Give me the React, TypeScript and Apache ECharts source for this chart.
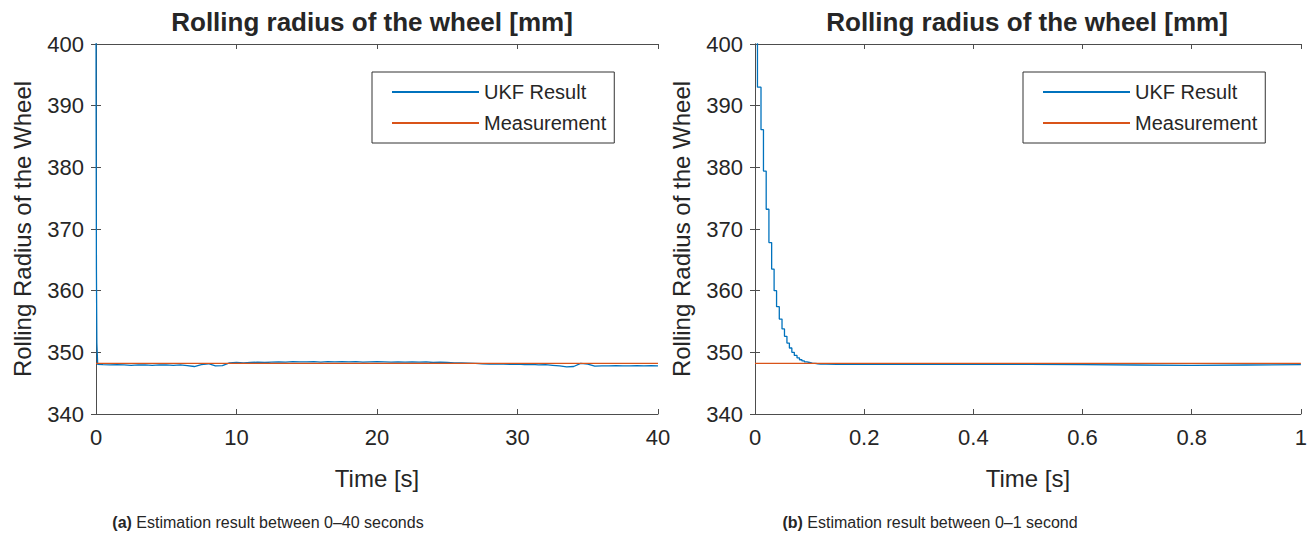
import React, { useEffect, useRef } from "react";
import * as echarts from "echarts";

// ---- Data ----
const seriesNames = ["UKF Result", "Measurement"];
const titleText = "Rolling radius of the wheel [mm]";
const yName = "Rolling Radius of the Wheel";
const xName = "Time [s]";
const captionA = "Estimation result between 0\u201340 seconds";
const captionB = "Estimation result between 0\u20131 second";

// (a) 0–40 s
const fullTime = [
  0, 0.005, 0.03, 0.06, 0.12, 0.5, 1, 1.5, 2, 2.5, 3, 3.5, 4, 4.5, 5, 5.5, 6, 6.5, 7, 7.5, 8, 8.5, 9, 9.5,
  10, 10.5, 11, 11.5, 12, 12.5, 13, 13.5, 14, 14.5, 15, 15.5, 16, 16.5, 17, 17.5, 18, 18.5, 19, 19.5,
  20, 20.5, 21, 21.5, 22, 22.5, 23, 23.5, 24, 24.5, 25, 25.5, 26, 26.5, 27, 27.5, 28, 28.5, 29, 29.5,
  30, 30.5, 31, 31.5, 32, 32.5, 33, 33.5, 34, 34.5, 35, 35.5, 36, 36.5, 37, 37.5, 38, 38.5, 39, 39.5, 40,
];
const fullUkf = [
  415, 393, 363.5, 351.5, 348.05, 348.0, 347.95, 348.0, 347.95, 347.9, 347.95, 347.95, 347.9, 347.95, 347.95, 347.9, 347.95, 347.85, 347.7, 348.0, 348.15, 347.8, 347.85, 348.3,
  348.35, 348.3, 348.35, 348.4, 348.35, 348.4, 348.45, 348.4, 348.5, 348.45, 348.45, 348.5, 348.4, 348.5, 348.45, 348.5, 348.45, 348.5, 348.4, 348.45,
  348.5, 348.45, 348.4, 348.45, 348.4, 348.45, 348.4, 348.45, 348.35, 348.4, 348.35, 348.3, 348.3, 348.25, 348.2, 348.15, 348.1, 348.15, 348.1, 348.05,
  348.1, 348.0, 348.05, 347.95, 348.0, 347.9, 347.8, 347.65, 347.7, 348.2, 348.1, 347.75, 347.8, 347.8, 347.85, 347.8, 347.8, 347.85, 347.8, 347.85, 347.8,
];
const measFullTime = [0, 40];
const measFullVal = [348.2, 348.2];

// (b) 0–1 s (sample-and-hold)
const zoomTime = [
  0, 0.0045, 0.011, 0.0155, 0.0205, 0.0255, 0.0305, 0.035, 0.0395, 0.0445, 0.0495, 0.054, 0.0585, 0.063,
  0.0675, 0.072, 0.077, 0.0815, 0.086, 0.0905, 0.095, 0.1, 0.105, 0.11, 0.115, 0.12, 0.13, 0.15, 0.2, 0.3,
  0.4, 0.5, 0.6, 0.7, 0.8, 0.9, 1.0,
];
const zoomUkf = [
  415, 393.0, 386.1, 379.4, 373.2, 367.8, 363.5, 360.0, 357.4, 355.4, 353.8, 352.6, 351.5, 350.7,
  350.0, 349.5, 349.1, 348.8, 348.6, 348.45, 348.35, 348.25, 348.2, 348.15, 348.1, 348.1, 348.05, 348.05, 348.05, 348.05,
  348.05, 348.0, 347.95, 347.9, 347.95, 348.0, 348.0,
];
const measZoomTime = [0, 1];
const measZoomVal = [348.2, 348.2];

const yMin = 340;
const yMax = 400;
const yStep = 10;

const FONT = '"Liberation Sans", Arial, Helvetica, sans-serif';
const TXT = "#262626";
const AX = "#4d4d4d";
const BLUE = "#0072BD";
const RED = "#D95319";

const zip = (a: number[], b: number[]) => a.map((v, i) => [v, b[i]]);

function axesFor(grid: number, xmin: number, xmax: number, xint: number) {
  const line = { show: true, lineStyle: { color: AX, width: 1 } };
  const tick = { show: true, inside: true, length: 5, lineStyle: { color: AX, width: 1 } };
  const label = { color: TXT, fontFamily: FONT, fontSize: 22 };
  const xAxes = [
    {
      type: "value", gridIndex: grid, min: xmin, max: xmax, interval: xint, position: "bottom",
      axisLine: line, axisTick: tick, splitLine: { show: false },
      axisLabel: { ...label, margin: 12 },
      name: xName, nameLocation: "middle", nameGap: 52,
      nameTextStyle: { color: TXT, fontFamily: FONT, fontSize: 24 },
    },
    {
      type: "value", gridIndex: grid, min: xmin, max: xmax, interval: xint, position: "top",
      axisLine: line, axisTick: tick, splitLine: { show: false }, axisLabel: { show: false },
    },
  ];
  const yAxes = [
    {
      type: "value", gridIndex: grid, min: yMin, max: yMax, interval: yStep, position: "left",
      axisLine: line, axisTick: tick, splitLine: { show: false },
      axisLabel: { ...label, margin: 12 },
      name: yName, nameLocation: "middle", nameGap: 62,
      nameTextStyle: { color: TXT, fontFamily: FONT, fontSize: 24 },
    },
    {
      type: "value", gridIndex: grid, min: yMin, max: yMax, interval: yStep, position: "right",
      axisLine: line, axisTick: tick, splitLine: { show: false }, axisLabel: { show: false },
    },
  ];
  return { xAxes, yAxes };
}

export default function App() {
  const ref = useRef<HTMLDivElement>(null);
  useEffect(() => {
    if (!ref.current) return;
    const chart = echarts.init(ref.current, null, { renderer: "svg" });
    const a = axesFor(0, 0, 40, 10);
    const b = axesFor(1, 0, 1, 0.2);
    const legendBase = {
      orient: "vertical",
      top: 72,
      padding: [10, 8, 10, 19],
      itemWidth: 87,
      itemHeight: 20,
      itemGap: 11,
      borderColor: "#333",
      borderWidth: 1,
      backgroundColor: "#fff",
      itemStyle: { opacity: 0, borderWidth: 0 },
      textStyle: { color: TXT, fontFamily: FONT, fontSize: 20 },
      data: seriesNames,
      selectedMode: false,
    };
    const titleBase = {
      textAlign: "center",
      padding: 0,
      textStyle: { color: TXT, fontFamily: FONT, fontSize: 26, fontWeight: "bold" },
    };
    const capBase = {
      textAlign: "center",
      padding: 0,
      top: 514,
      textStyle: {
        color: TXT, fontFamily: FONT, fontSize: 16, fontWeight: "normal",
        rich: { b: { fontFamily: FONT, fontSize: 16, fontWeight: "bold", color: TXT } },
      },
    };
    chart.setOption({
      animation: false,
      backgroundColor: "#fff",
      title: [
        { ...titleBase, text: titleText, left: 372, top: 9 },
        { ...titleBase, text: titleText, left: 1027, top: 9 },
        { ...capBase, text: "{b|(a)} " + captionA, left: 268 },
        { ...capBase, text: "{b|(b)} " + captionB, left: 930 },
      ],
      legend: [
        { ...legendBase, left: 372 },
        { ...legendBase, left: 1023 },
      ],
      grid: [
        { left: 96, top: 44, width: 562, height: 370 },
        { left: 755, top: 44, width: 552, height: 370 },
      ],
      xAxis: [...a.xAxes, ...b.xAxes],
      yAxis: [...a.yAxes, ...b.yAxes],
      series: [
        {
          name: seriesNames[0], type: "line", xAxisIndex: 0, yAxisIndex: 0, symbol: "none",
          data: zip(fullTime, fullUkf), lineStyle: { color: BLUE, width: 1.3 }, itemStyle: { color: BLUE }, clip: true,
        },
        {
          name: seriesNames[1], type: "line", xAxisIndex: 0, yAxisIndex: 0, symbol: "none",
          data: zip(measFullTime, measFullVal), lineStyle: { color: RED, width: 1.3 }, itemStyle: { color: RED }, clip: true,
        },
        {
          name: seriesNames[0], type: "line", xAxisIndex: 2, yAxisIndex: 2, symbol: "none", step: "end",
          data: zip(zoomTime, zoomUkf), lineStyle: { color: BLUE, width: 1.3 }, itemStyle: { color: BLUE }, clip: true,
        },
        {
          name: seriesNames[1], type: "line", xAxisIndex: 2, yAxisIndex: 2, symbol: "none",
          data: zip(measZoomTime, measZoomVal), lineStyle: { color: RED, width: 1.3 }, itemStyle: { color: RED }, clip: true,
        },
      ],
    });
    return () => chart.dispose();
  }, []);
  return (
    <div
      ref={ref}
      style={{ position: "absolute", left: 0, top: 0, width: 1310, height: 540, background: "#fff" }}
    />
  );
}
